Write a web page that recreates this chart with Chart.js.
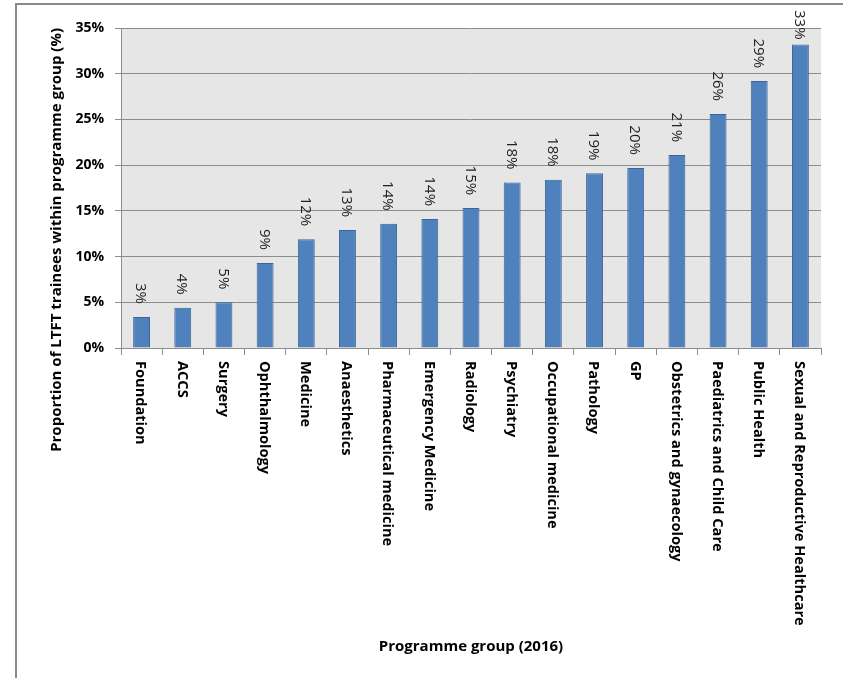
<!DOCTYPE html>
<html>
<head>
<meta charset="utf-8">
<script src="https://cdn.jsdelivr.net/npm/chart.js@4"></script>
<style>
  html, body { margin: 0; padding: 0; background: #fff; }
  #wrap { position: relative; width: 843px; height: 678px; }
</style>
</head>
<body>
<div id="wrap"><canvas id="ltftChart" width="843" height="678"></canvas></div>
<script>
const programmes = ['Foundation', 'ACCS', 'Surgery', 'Ophthalmology', 'Medicine', 'Anaesthetics',
    'Pharmaceutical medicine', 'Emergency Medicine', 'Radiology', 'Psychiatry', 'Occupational medicine',
    'Pathology', 'GP', 'Obstetrics and gynaecology', 'Paediatrics and Child Care', 'Public Health',
    'Sexual and Reproductive Healthcare'];
const ltftShare = [3.4, 4.4, 5.0, 9.3, 11.9, 12.9, 13.6, 14.1, 15.3, 18.1, 18.4, 19.1, 19.7, 21.1, 25.6, 29.2, 33.2];
const valueLabels = ['3%', '4%', '5%', '9%', '12%', '13%', '14%', '14%', '15%', '18%', '18%', '19%', '20%', '21%', '26%', '29%', '33%'];
const yTicks = [0, 5, 10, 15, 20, 25, 30, 35];

const FONT = '"Open Sans", "Liberation Sans", sans-serif';
const GRID = '#8c8c8c';

// frame + grey plot background
const backdrop = {
    id: 'backdrop',
    beforeDraw(chart) {
        const ctx = chart.ctx;
        const a = chart.chartArea;
        ctx.save();
        ctx.strokeStyle = '#8a8a8a';
        ctx.lineWidth = 2;
        ctx.strokeRect(16, 4, 900, 800);
        ctx.fillStyle = '#e6e6e6';
        ctx.fillRect(a.left, a.top, a.right - a.left, a.bottom - a.top);
        ctx.restore();
    }
};

// rotated category names and value labels (read top to bottom)
const rotatedText = {
    id: 'rotatedText',
    afterDraw(chart) {
        const ctx = chart.ctx;
        const xs = chart.scales.x;
        const bars = chart.getDatasetMeta(0).data;
        ctx.save();
        ctx.fillStyle = '#000';
        ctx.textBaseline = 'middle';
        ctx.textAlign = 'left';
        ctx.font = 'bold 14.6px ' + FONT;
        programmes.forEach((name, i) => {
            ctx.save();
            ctx.translate(xs.getPixelForTick(i), chart.chartArea.bottom + 13);
            ctx.rotate(Math.PI / 2);
            ctx.fillText(name, 0, 1);
            ctx.restore();
        });
        ctx.font = '15px ' + FONT;
        ctx.fillStyle = '#222';
        bars.forEach((bar, i) => {
            const w = ctx.measureText(valueLabels[i]).width;
            const start = Math.max(10, bar.y - 13 - w);
            ctx.save();
            ctx.translate(bar.x, start);
            ctx.rotate(Math.PI / 2);
            ctx.fillText(valueLabels[i], 0, 1);
            ctx.restore();
        });
        ctx.restore();
    }
};

new Chart(document.getElementById('ltftChart').getContext('2d'), {
    type: 'bar',
    data: {
        labels: programmes,
        datasets: [{
            data: ltftShare,
            backgroundColor: '#4f81bd',
            borderColor: '#3b6597',
            borderWidth: 1,
            barPercentage: 0.41,
            categoryPercentage: 1
        }]
    },
    options: {
        responsive: false,
        animation: false,
        devicePixelRatio: 1,
        layout: { padding: { top: 28, right: 22, left: 0, bottom: 0 } },
        plugins: { legend: { display: false }, tooltip: { enabled: false } },
        scales: {
            x: {
                offset: true,
                grid: { drawOnChartArea: false, drawTicks: true, tickLength: 7, color: GRID, offset: true },
                border: { color: GRID },
                ticks: { color: 'rgba(0,0,0,0)', autoSkip: false, minRotation: 90, maxRotation: 90 },
                title: {
                    display: true,
                    text: 'Programme group (2016)',
                    font: { family: FONT, size: 15, weight: 'bold' },
                    color: '#000',
                    padding: { top: 0, bottom: 22 }
                },
                afterFit(scale) { scale.height = 330; }
            },
            y: {
                min: 0,
                max: 35,
                afterBuildTicks(scale) { scale.ticks = yTicks.map(v => ({ value: v })); },
                grid: { color: GRID, tickLength: 6 },
                border: { color: GRID },
                ticks: {
                    padding: 11,
                    color: '#000',
                    font: { family: FONT, size: 14, weight: 'bold' },
                    callback: v => v + '%'
                },
                title: {
                    display: true,
                    text: 'Proportion of LTFT trainees within programme group (%)',
                    align: 'end',
                    font: { family: FONT, size: 15, weight: 'bold' },
                    color: '#000',
                    padding: { top: 48, bottom: 0 }
                },
                afterFit(scale) { scale.width = 121; }
            }
        }
    },
    plugins: [backdrop, rotatedText]
});
</script>
</body>
</html>
